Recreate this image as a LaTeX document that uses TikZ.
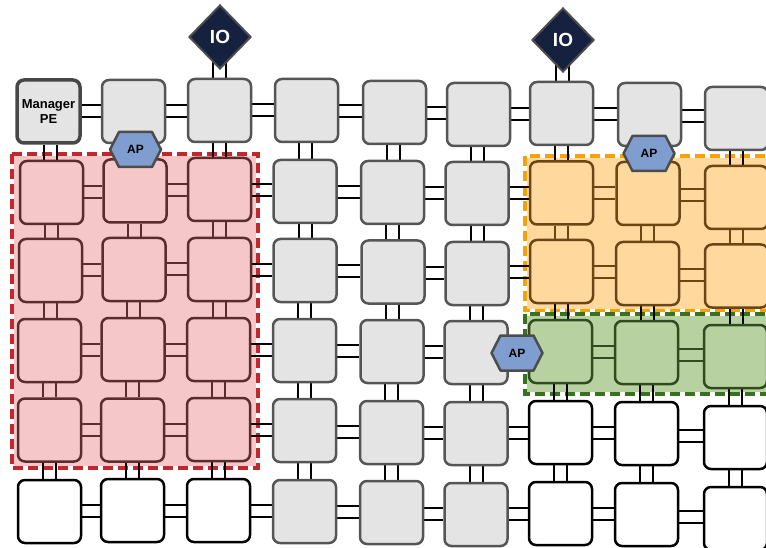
\documentclass[tikz,border=0pt]{standalone}
\usepackage{fontspec}
\setmainfont{Liberation Sans}
\usetikzlibrary{shapes.geometric,calc}
\pgfdeclarelayer{regions}
\pgfdeclarelayer{wires}
\pgfsetlayers{regions,wires,main}
\definecolor{grayfill}{HTML}{E4E4E4}
\definecolor{grayline}{HTML}{555555}
\definecolor{redfill}{HTML}{F6C7C9}
\definecolor{redline}{HTML}{5B2C2C}
\definecolor{reddash}{HTML}{C1272D}
\definecolor{orangefill}{HTML}{FFD89E}
\definecolor{orangeline}{HTML}{6B4612}
\definecolor{orangedash}{HTML}{F4A20C}
\definecolor{greenfill}{HTML}{B7D1A1}
\definecolor{greenline}{HTML}{304B1F}
\definecolor{greendash}{HTML}{38711F}
\definecolor{apfill}{HTML}{7F9ECF}
\definecolor{iofill}{HTML}{15213F}
\tikzset{
  pe/.style={rectangle, rounded corners=7, minimum width=63, minimum height=63, inner sep=0, line width=2.5},
  graype/.style={pe, fill=grayfill, draw=grayline},
  mgrpe/.style={pe, fill=grayfill, draw=black!72, line width=3.5, font=\bfseries\fontsize{13}{15}\selectfont, align=center},
  redpe/.style={pe, fill=redfill, draw=redline},
  orangepe/.style={pe, fill=orangefill, draw=orangeline},
  greenpe/.style={pe, fill=greenfill, draw=greenline},
  whitepe/.style={pe, fill=white, draw=black},
  wire/.style={line width=2},
  iostyle/.style={diamond, aspect=1, minimum width=62, minimum height=64, inner sep=0, fill=iofill, draw=black!70, line width=2, text=white, font=\bfseries\fontsize{19}{20}\selectfont},
  aphexstyle/.style={fill=apfill, draw=black!70, line width=2.5, line join=round},
  aptext/.style={font=\bfseries\fontsize{12}{13}\selectfont, inner sep=0},
  regionwhite/.style={draw=white, line width=4},
}
\newcommand\hwire[3][black]{%
  \path (#2.center) -- (#3.center) coordinate[pos=.5] (hm);
  \draw[wire,#1] ($(#2.east|-hm)+(0,-6)$) -- ($(#3.west|-hm)+(0,-6)$);
  \draw[wire,#1] ($(#2.east|-hm)+(0,6)$) -- ($(#3.west|-hm)+(0,6)$);}
\newcommand\vwire[3][black]{%
  \path (#2.center) -- (#3.center) coordinate[pos=.5] (vm);
  \draw[wire,#1] ($(#2.south-|vm)+(-6.5,0)$) -- ($(#3.north-|vm)+(-6.5,0)$);
  \draw[wire,#1] ($(#2.south-|vm)+(6.5,0)$) -- ($(#3.north-|vm)+(6.5,0)$);}
\newcommand\iowire[2]{%
  \path (#1.center) -- (#2.north) coordinate[pos=.5] (im);
  \draw[wire] ($(#1.center-|im)+(-6.5,0)$) -- ($(#2.north-|im)+(-6.5,0)$);
  \draw[wire] ($(#1.center-|im)+(6.5,0)$) -- ($(#2.north-|im)+(6.5,0)$);}
\newcommand\aphex[2]{%
  \coordinate (#1) at #2;
  \draw[aphexstyle] ($(#1)+(-25.5,0)$) -- ($(#1)+(-16.5,-17.5)$) -- ($(#1)+(16.5,-17.5)$)
    -- ($(#1)+(25.5,0)$) -- ($(#1)+(16.5,17.5)$) -- ($(#1)+(-16.5,17.5)$) -- cycle;
  \node[aptext] (#1t) at (#1) {AP};}
\begin{document}
\begin{tikzpicture}[x=1pt, y=-1pt]
\useasboundingbox (0,0) rectangle (766,548);
% regions
\begin{pgfonlayer}{regions}
  \fill[redfill] (12,154) rectangle (258,468);
  \draw[regionwhite] (12,154) rectangle (258,468);
  \draw[reddash, line width=4, dash pattern=on 10 off 5] (12,154) rectangle (258,468);
  \fill[orangefill] (525,156) rectangle (790,311);
  \draw[regionwhite] (525,156) rectangle (790,311);
  \draw[orangedash, line width=4, dash pattern=on 10 off 5] (525,156) rectangle (790,311);
  \fill[greenfill] (525,314) rectangle (790,394);
  \draw[regionwhite] (525,314) rectangle (790,394);
  \draw[greendash, line width=4, dash pattern=on 10 off 5] (525,314) rectangle (790,394);
\end{pgfonlayer}
% PEs
\node[mgrpe] (n00) at (48.5,111.5) {Manager\\PE};
\foreach \c/\r/\x/\y/\s in {
  1/0/133.5/111.5/graype, 2/0/219.5/110.5/graype, 3/0/306.5/110.5/graype, 4/0/394.5/112.5/graype,
  5/0/478.5/114.5/graype, 6/0/561.5/113.5/graype, 7/0/649.5/114.5/graype, 8/0/736.5/118.5/graype,
  0/1/51.5/192.5/redpe, 1/1/135/191/redpe, 2/1/219.5/189.5/redpe, 3/1/305/191.5/graype,
  4/1/392.5/192.5/graype, 5/1/477/193.5/graype, 6/1/561.5/193/orangepe, 7/1/648/193.5/orangepe, 8/1/736.5/197.5/orangepe,
  0/2/50.5/270.5/redpe, 1/2/134/269.5/redpe, 2/2/219.5/269.5/redpe, 3/2/305/270.5/graype,
  4/2/393/272/graype, 5/2/477/273.5/graype, 6/2/561.5/271.5/orangepe, 7/2/647.5/273.5/orangepe, 8/2/736.5/276/orangepe,
  0/3/49.5/350.5/redpe, 1/3/133/349.5/redpe, 2/3/218.5/349.5/redpe, 3/3/304.5/350.5/graype,
  4/3/392/351.5/graype, 5/3/476/352.5/graype, 6/3/560.5/351.5/greenpe, 7/3/646.5/352.5/greenpe, 8/3/735.5/356.5/greenpe,
  0/4/49.5/430/redpe, 1/4/132.5/430/redpe, 2/4/218.5/429.5/redpe, 3/4/304.5/430.5/graype,
  4/4/391.5/432.5/graype, 5/4/476/433.5/graype, 6/4/560.5/432.5/whitepe, 7/4/646.5/433.5/whitepe, 8/4/735.5/437.5/whitepe,
  0/5/49.5/511.5/whitepe, 1/5/132.5/510.5/whitepe, 2/5/218.5/510.5/whitepe, 3/5/304.5/511.5/graype,
  4/5/391.5/512.5/graype, 5/5/476/514.5/graype, 6/5/560.5/513.5/whitepe, 7/5/646.5/514.5/whitepe, 8/5/735.5/518.5/whitepe}
  {\node[\s] (n\c\r) at (\x,\y) {};}
% IO
\node[iostyle] (io1) at (220,37) {IO};
\node[iostyle] (io2) at (563,40) {IO};
% wires
\begin{pgfonlayer}{wires}
  \foreach \r in {0,...,5}{\foreach \c in {0,...,7}{\pgfmathtruncatemacro\nc{\c+1}\hwire{n\c\r}{n\nc\r}}}
  \foreach \c in {0,...,8}{\foreach \r in {0,...,4}{\pgfmathtruncatemacro\nr{\r+1}\vwire{n\c\r}{n\c\nr}}}
  \foreach \r in {1,...,4}{\foreach \c in {0,1}{\pgfmathtruncatemacro\nc{\c+1}\hwire[redline]{n\c\r}{n\nc\r}}}
  \foreach \c in {0,1,2}{\foreach \r in {1,2,3}{\pgfmathtruncatemacro\nr{\r+1}\vwire[redline]{n\c\r}{n\c\nr}}}
  \foreach \r in {1,2}{\foreach \c in {6,7}{\pgfmathtruncatemacro\nc{\c+1}\hwire[orangeline]{n\c\r}{n\nc\r}}}
  \foreach \c in {6,7,8}{\vwire[orangeline]{n\c1}{n\c2}}
  \foreach \c in {6,7}{\pgfmathtruncatemacro\nc{\c+1}\hwire[greenline]{n\c3}{n\nc3}}
  \iowire{io1}{n20}
  \iowire{io2}{n60}
\end{pgfonlayer}
% AP
\aphex{ap1}{(135.5,149.5)}
\aphex{ap2}{(649,153.5)}
\aphex{ap3}{(517,353)}
\end{tikzpicture}
\end{document}
